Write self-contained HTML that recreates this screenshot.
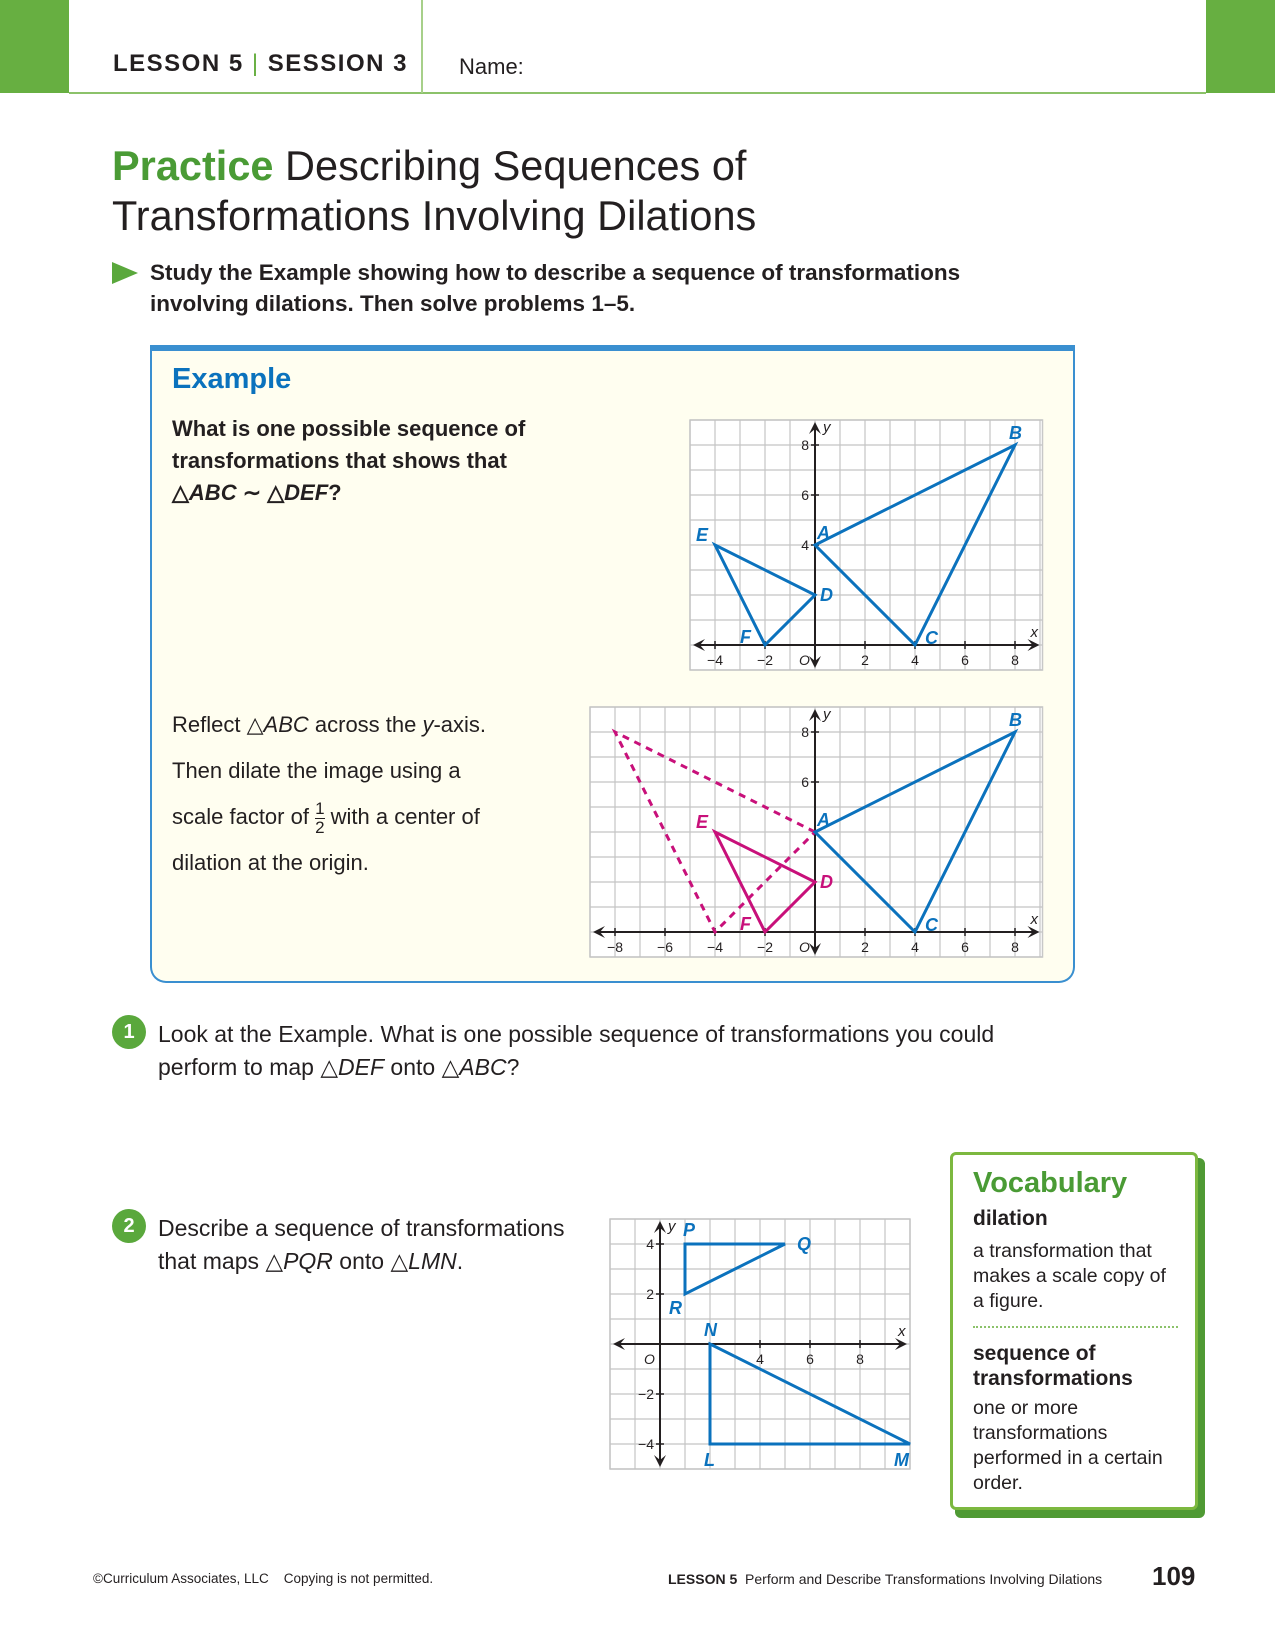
<!DOCTYPE html>
<html><head><meta charset="utf-8">
<style>
body{margin:0;width:1275px;height:1632px;position:relative;background:#fff;font-family:"Liberation Sans",sans-serif;color:#231f20;overflow:hidden}
.a{position:absolute;white-space:nowrap}
</style></head><body>
<div class="a" style="left:0;top:0;width:69px;height:93px;background:#67af41"></div>
<div class="a" style="left:1206px;top:0;width:69px;height:93px;background:#67af41"></div>
<div class="a" style="left:69px;top:92px;width:1137px;height:2px;background:#8cc26a"></div>
<div class="a" style="left:421px;top:0;width:2px;height:93px;background:#a7d08a"></div>
<div class="a" style="left:113px;top:50px;font-size:24px;letter-spacing:1.5px;font-weight:bold;color:#231f20">LESSON 5 <span style="color:#67af41;font-weight:normal">|</span> SESSION 3</div>
<div class="a" style="left:459px;top:54px;font-size:22px">Name:</div>

<div class="a" style="left:112px;top:141px;font-size:41.5px;line-height:50px;white-space:normal;width:900px"><b style="color:#4a9b35">Practice</b> Describing Sequences of<br>Transformations Involving Dilations</div>
<div class="a" style="left:112px;top:262px;width:0;height:0;border-left:26px solid #5aa83c;border-top:11px solid transparent;border-bottom:11px solid transparent"></div>
<div class="a" style="left:150px;top:257px;font-size:22.5px;line-height:31px;font-weight:bold">Study the Example showing how to describe a sequence of transformations<br>involving dilations. Then solve problems 1–5.</div>

<div class="a" style="left:150px;top:345px;width:921px;height:630px;background:#fffef0;border:2px solid #3a8fd0;border-top:6px solid #3a8fd0;border-radius:0 0 16px 16px"></div>
<div class="a" style="left:172px;top:363px;font-size:29px;font-weight:bold;color:#0b72bd">Example</div>
<div class="a" style="left:172px;top:413px;font-size:22px;line-height:32px;font-weight:bold">What is one possible sequence of<br>transformations that shows that<br>△<i>ABC</i> ∼ △<i>DEF</i>?</div>
<div class="a" style="left:172px;top:702px;font-size:22px;line-height:46px">Reflect △<i>ABC</i> across the <i>y</i>-axis.<br>Then dilate the image using a<br>scale factor of <span style="display:inline-block;vertical-align:middle;text-align:center;font-size:17px;line-height:18px">1<br><span style="border-top:1px solid #231f20;display:block">2</span></span> with a center of<br>dilation at the origin.</div>

<div class="a" style="left:112px;top:1015px;width:34px;height:34px;border-radius:50%;background:#5aa83c;color:#fff;font-weight:bold;font-size:20px;text-align:center;line-height:34px">1</div>
<div class="a" style="left:158px;top:1018px;font-size:23px;line-height:33px">Look at the Example. What is one possible sequence of transformations you could<br>perform to map △<i>DEF</i> onto △<i>ABC</i>?</div>
<div class="a" style="left:112px;top:1209px;width:34px;height:34px;border-radius:50%;background:#5aa83c;color:#fff;font-weight:bold;font-size:20px;text-align:center;line-height:34px">2</div>
<div class="a" style="left:158px;top:1212px;font-size:23px;line-height:33px">Describe a sequence of transformations<br>that maps △<i>PQR</i> onto △<i>LMN</i>.</div>

<div class="a" style="left:955px;top:1158px;width:250px;height:360px;background:#4f9a34;border-radius:6px"></div>
<div class="a" style="left:950px;top:1152px;width:248px;height:358px;background:#fff;border:3px solid #7cb83f;border-radius:6px;box-sizing:border-box"></div>
<div class="a" style="left:973px;top:1167px;font-size:29px;font-weight:bold;color:#4a9b35">Vocabulary</div>
<div class="a" style="left:973px;top:1207px;font-size:21px;font-weight:bold">dilation</div>
<div class="a" style="left:973px;top:1239px;font-size:19.5px;line-height:25px">a transformation that<br>makes a scale copy of<br>a figure.</div>
<div class="a" style="left:973px;top:1326px;width:205px;border-top:2px dotted #8cc26a"></div>
<div class="a" style="left:973px;top:1341px;font-size:21px;line-height:25px;font-weight:bold">sequence of<br>transformations</div>
<div class="a" style="left:973px;top:1396px;font-size:19.5px;line-height:25px">one or more<br>transformations<br>performed in a certain<br>order.</div>

<div class="a" style="left:93px;top:1571px;font-size:13.5px">©Curriculum Associates, LLC &nbsp;&nbsp;&nbsp;Copying is not permitted.</div>
<div class="a" style="left:668px;top:1571px;font-size:14px"><b>LESSON 5</b>&nbsp; Perform and Describe Transformations Involving Dilations</div>
<div class="a" style="left:1152px;top:1561px;font-size:26px;font-weight:bold">109</div>

<svg id="charts" class="a" style="left:0;top:0" width="1275" height="1632" xmlns="http://www.w3.org/2000/svg"></svg>
<script>
// chart 1 data
const c1Tri1 = [[0,4],[8,8],[4,0]];
const c1Tri1Names = ["A","B","C"];
const c1Tri2 = [[0,2],[-4,4],[-2,0]];
const c1Tri2Names = ["D","E","F"];
const c1XTicks = [-4,-2,2,4,6,8];
const c1YTicks = [4,6,8];
// chart 2 data
const c2Tri1 = [[0,4],[8,8],[4,0]];
const c2Tri1Names = ["A","B","C"];
const c2Tri2 = [[0,2],[-4,4],[-2,0]];
const c2Tri2Names = ["D","E","F"];
const c2Image = [[0,4],[-8,8],[-4,0]];
const c2XTicks = [-8,-6,-4,-2,2,4,6,8];
const c2YTicks = [6,8];
// chart 3 data
const c3Tri1 = [[1,4],[5,4],[1,2]];
const c3Tri1Names = ["P","Q","R"];
const c3Tri2 = [[2,0],[10,-4],[2,-4]];
const c3Tri2Names = ["N","M","L"];
const c3XTicks = [4,6,8];
const c3YTicks = [4,2,-2,-4];

const svg = document.getElementById('charts');
const NS = 'http://www.w3.org/2000/svg';
const BLUE = '#0b72bd', MAG = '#c8107a';
function mk(tag, attrs, parent){const e=document.createElementNS(NS,tag);for(const k in attrs)e.setAttribute(k,attrs[k]);(parent||svg).appendChild(e);return e;}

function chart(name, ox, oy, xmin, xmax, ymin, ymax, xticks, yticks){
  const u = 25;
  const g = mk('g', {});
  
  
  const X = v => ox + v*u, Y = v => oy - v*u;
  const bg = mk('rect', {x:X(xmin), y:Y(ymax), width:(xmax-xmin)*u, height:(ymax-ymin)*u, fill:'#fff', stroke:'#c8c8c8', 'stroke-width':1.5}, g);
  
  
  for(let i=Math.ceil(xmin); i<=Math.floor(xmax); i++){ mk('line',{x1:X(i),x2:X(i),y1:Y(ymax),y2:Y(ymin),stroke:'#c4c4c4','stroke-width':1.2},g); }
  for(let j=Math.ceil(ymin); j<=Math.floor(ymax); j++){ mk('line',{x1:X(xmin),x2:X(xmax),y1:Y(j),y2:Y(j),stroke:'#c4c4c4','stroke-width':1.2},g); }
  const xa = mk('line',{x1:X(xmin)+6,x2:X(xmax)-6,y1:Y(0),y2:Y(0),stroke:'#231f20','stroke-width':2},g);
   
  const ya = mk('line',{x1:X(0),x2:X(0),y1:Y(ymin)-4,y2:Y(ymax)+4,stroke:'#231f20','stroke-width':2},g);
   
  const ah = (x,y,dx,dy)=>mk('path',{d:`M${x},${y} L${x-dx*12+dy*6},${y-dy*12+dx*6} L${x-dx*7},${y-dy*7} L${x-dx*12-dy*6},${y-dy*12-dx*6}Z`,fill:'#231f20'},g);
  ah(X(xmin)+3,Y(0),-1,0); ah(X(xmax)-3,Y(0),1,0); ah(X(0),Y(ymax)+2,0,-1); ah(X(0),Y(ymin)-2,0,1);
  xticks.forEach(t=>{
    mk('line',{x1:X(t),x2:X(t),y1:Y(0)-4,y2:Y(0)+4,stroke:'#231f20','stroke-width':1.5},g);
    const tx = mk('text',{x:X(t),y:Y(0)+20,'font-size':14,'text-anchor':'middle',fill:'#231f20'},g);
    tx.textContent = t<0 ? '−'+(-t) : String(t);
     
  });
  yticks.forEach(t=>{
    mk('line',{x1:X(0)-4,x2:X(0)+4,y1:Y(t),y2:Y(t),stroke:'#231f20','stroke-width':1.5},g);
    const tx = mk('text',{x:X(0)-6,y:Y(t)+5,'font-size':14,'text-anchor':'end',fill:'#231f20'},g);
    tx.textContent = t<0 ? '−'+(-t) : String(t);
     
  });
  const o = mk('text',{x:X(0)-16,y:Y(0)+20,'font-size':14,'font-style':'italic',fill:'#231f20'},g); o.textContent='O';
   
  const xl = mk('text',{x:X(xmax)-12,y:Y(0)-8,'font-size':15,'font-style':'italic',fill:'#231f20'},g); xl.textContent='x';
   
  const yl = mk('text',{x:X(0)+8,y:Y(ymax)+12,'font-size':15,'font-style':'italic',fill:'#231f20'},g); yl.textContent='y';
   
  return {g,X,Y};
}
function tri(c, pts, color, dashed, name){
  const p = mk('polygon',{points:pts.map(q=>c.X(q[0])+','+c.Y(q[1])).join(' '),fill:'none',stroke:color,'stroke-width':3,'stroke-linejoin':'miter','stroke-dasharray':dashed?'7,6':'none'},c.g);
  
  
}
function labels(c, pts, names, color, offs){
  pts.forEach((q,i)=>{
    const t = mk('text',{x:c.X(q[0])+offs[i][0],y:c.Y(q[1])+offs[i][1],'font-size':18,'font-weight':'bold','font-style':'italic',fill:color},c.g);
    t.textContent = names[i];
    
    
  });
}
const c1 = chart('example-graph-1', 815, 645, -5, 9.1, -1, 9, c1XTicks, c1YTicks);
tri(c1, c1Tri1, BLUE, false, 'triangle-abc');
tri(c1, c1Tri2, BLUE, false, 'triangle-def');
labels(c1, c1Tri1, c1Tri1Names, BLUE, [[2,-6],[-6,-6],[10,-1]]);
labels(c1, c1Tri2, c1Tri2Names, BLUE, [[5,6],[-19,-4],[-25,-2]]);

const c2 = chart('example-graph-2', 815, 932, -9, 9.1, -1, 9, c2XTicks, c2YTicks);
tri(c2, c2Image, MAG, true, 'reflected-image-dashed');
tri(c2, c2Tri1, BLUE, false, 'triangle-abc');
tri(c2, c2Tri2, MAG, false, 'triangle-def');
labels(c2, c2Tri1, c2Tri1Names, BLUE, [[2,-6],[-6,-6],[10,-1]]);
labels(c2, c2Tri2, c2Tri2Names, MAG, [[5,6],[-19,-4],[-25,-2]]);

const c3 = chart('problem-2-graph', 660, 1344, -2, 10, -5, 5, c3XTicks, c3YTicks);
tri(c3, c3Tri1, BLUE, false, 'triangle-pqr');
tri(c3, c3Tri2, BLUE, false, 'triangle-lmn');
labels(c3, c3Tri1, c3Tri1Names, BLUE, [[-2,-8],[12,6],[-16,20]]);
labels(c3, c3Tri2, c3Tri2Names, BLUE, [[-6,-8],[-16,22],[-6,22]]);
</script>
</body></html>
